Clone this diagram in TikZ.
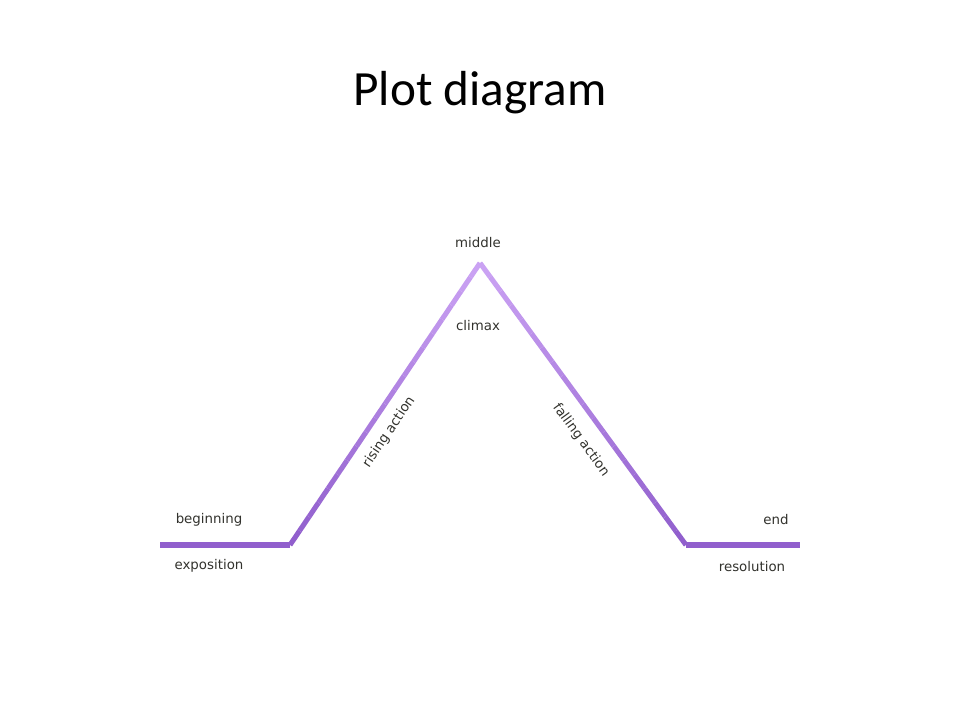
\documentclass[tikz,border=0pt]{standalone}
\usepackage{fontspec}
\setmainfont{Carlito}
\newfontfamily\lblfont{DejaVu Sans}
\usetikzlibrary{calc}
\definecolor{plotLow}{RGB}{145,95,205}
\definecolor{plotHigh}{RGB}{205,165,245}
\definecolor{lblGrey}{RGB}{50,50,45}
\tikzstyle{lbl} = [font=\lblfont\fontsize{9.5}{11}\selectfont, text=lblGrey, inner sep=0pt]
\tikzstyle{leg} = [line width=3.6pt, line cap=butt, line join=miter]

\begin{document}
\begin{tikzpicture}[x=0.025cm, y=-0.025cm]
\useasboundingbox (0,0) rectangle (960,720);

% title
\node (title) [font=\fontsize{35}{40}\selectfont] at (480,93) {Plot diagram};

% corners of the plot line
\coordinate (start) at (160,545);
\coordinate (riseFoot) at (290,545);
\coordinate (peak) at (480,263);
\coordinate (fallFoot) at (686,545);
\coordinate (finish) at (800,545);

% flat parts
\draw [leg, plotLow] (start) -- (riseFoot);
\draw [leg, plotLow] (fallFoot) -- (finish);

% legs, lighter towards the top
\foreach \i [evaluate=\i as \j using \i+1, evaluate=\i as \pct using \i*5] in {0,...,19} {
  \draw [leg, color=plotHigh!\pct!plotLow] ($(riseFoot)!\i/20!(peak)$) -- ($(riseFoot)!\j/20!(peak)$);
  \draw [leg, color=plotHigh!\pct!plotLow] ($(fallFoot)!\i/20!(peak)$) -- ($(fallFoot)!\j/20!(peak)$);
}

% labels
\node (middle) [lbl] at (478,243) {middle};
\node (climax) [lbl] at (478,326) {climax};
\node (beginning) [lbl] at (209,520) {beginning};
\node (exposition) [lbl] at (209,566) {exposition};
\node (endLbl) [lbl] at (776,520) {end};
\node (resolution) [lbl] at (752,567) {resolution};
\node (rising) [lbl, rotate=56] at (389,432) {rising action};
\node (falling) [lbl, rotate=-54] at (581,440) {falling action};

\end{tikzpicture}
\end{document}
